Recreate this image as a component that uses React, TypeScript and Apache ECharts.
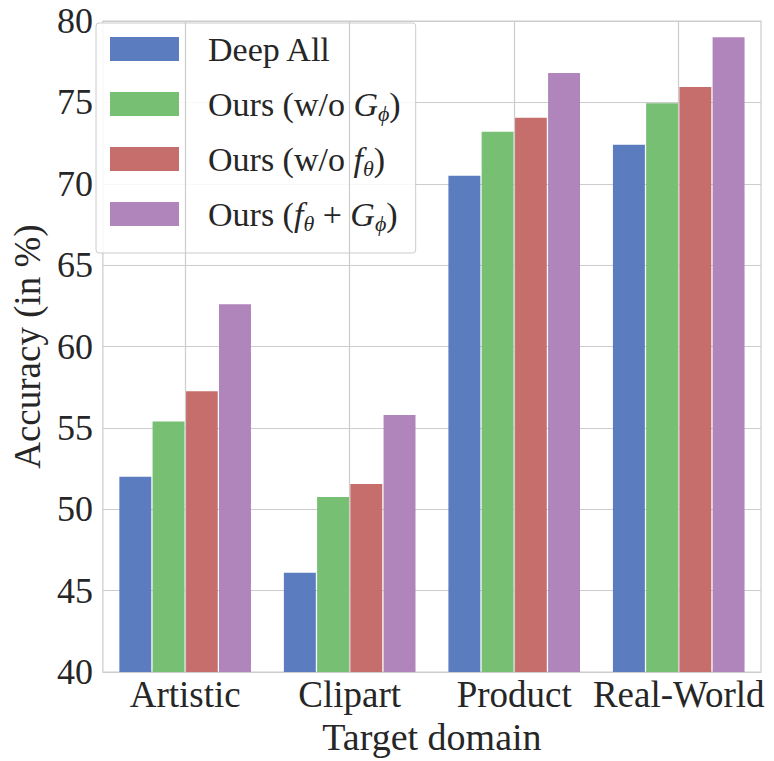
import React, { useEffect, useRef } from "react";
import * as echarts from "echarts";

const categories = ["Artistic", "Clipart", "Product", "Real-World"];
const seriesNames = ["Deep All", "Ours (w/o G)", "Ours (w/o f)", "Ours (f + G)"];
const deepAll = [52.0, 46.1, 70.5, 72.4];
const oursWoG = [55.4, 50.75, 73.2, 74.95];
const oursWoF = [57.25, 51.55, 74.05, 75.95];
const oursFull = [62.6, 55.8, 76.8, 79.0];
const colors = ["#5B7DBF", "#77BF72", "#C66E6C", "#AF85BC"];
const yTicks = { min: 40, max: 80, interval: 5 };

const FONT = "'Liberation Serif', 'Times New Roman', serif";
const TXT = "#262626";

const legendRich: Record<string, string> = {
  "Deep All": "{t|Deep All}",
  "Ours (w/o G)": "{t|Ours (w/o }{i|G}{s|ϕ}{t|)}",
  "Ours (w/o f)": "{t|Ours (w/o }{i|f}{s|θ}{t|)}",
  "Ours (f + G)": "{t|Ours (}{i|f}{s|θ}{t| + }{i|G}{s|ϕ}{t|)}",
};

export default function App() {
  const ref = useRef<HTMLDivElement>(null);
  useEffect(() => {
    if (!ref.current) return;
    const chart = echarts.init(ref.current, undefined, { renderer: "svg" });
    const values = [deepAll, oursWoG, oursWoF, oursFull];
    const barSeries = seriesNames.map((name, i) => ({
      name,
      type: "bar" as const,
      data: values[i],
      z: 3,
      barGap: "4%",
      barCategoryGap: "20%",
      itemStyle: { color: colors[i] },
    }));
    chart.setOption({
      animation: false,
      grid: {
        left: 92,
        top: 21,
        right: 13,
        bottom: 88,
        show: true,
        borderColor: "#cccccc",
        borderWidth: 1.2,
        backgroundColor: "transparent",
      },
      legend: {
        data: seriesNames,
        orient: "vertical",
        left: 96,
        top: 23,
        padding: [6, 15, 19, 14],
        itemWidth: 69,
        itemHeight: 24,
        itemGap: 15,
        backgroundColor: "rgba(255,255,255,0.85)",
        borderColor: "#cccccc",
        borderWidth: 1,
        borderRadius: 3,
        icon: "rect",
        formatter: (name: string) => legendRich[name] || name,
        textStyle: {
          fontFamily: FONT,
          fontSize: 34,
          color: TXT,
          lineHeight: 40,
          padding: [0, 0, 0, 24],
          rich: {
            t: { fontFamily: FONT, fontSize: 34, color: TXT, lineHeight: 40 },
            i: { fontFamily: FONT, fontSize: 34, color: TXT, fontStyle: "italic", lineHeight: 40 },
            s: {
              fontFamily: FONT,
              fontSize: 22,
              color: TXT,
              fontStyle: "italic",
              lineHeight: 22,
              verticalAlign: "bottom",
            },
          },
        },
      },
      xAxis: {
        type: "category",
        data: categories,
        name: "Target domain",
        nameLocation: "middle",
        nameGap: 40,
        nameTextStyle: { fontFamily: FONT, fontSize: 38, color: TXT, lineHeight: 38 },
        axisLine: { show: false },
        axisTick: { show: false },
        splitLine: { show: false },
        axisLabel: {
          fontFamily: FONT,
          fontSize: 37,
          color: TXT,
          margin: 4,
          lineHeight: 37,
          interval: 0,
        },
      },
      yAxis: {
        type: "value",
        min: yTicks.min,
        max: yTicks.max,
        interval: yTicks.interval,
        name: "Accuracy (in %)",
        nameLocation: "middle",
        nameGap: 55,
        nameTextStyle: { fontFamily: FONT, fontSize: 37, color: TXT, lineHeight: 38 },
        axisLine: { show: false },
        axisTick: { show: false },
        axisLabel: { fontFamily: FONT, fontSize: 36, color: TXT, margin: 10 },
        splitLine: { show: true, lineStyle: { color: "#cccccc", width: 1.2 } },
      },
      series: [
        {
          name: "_vgrid",
          type: "line",
          data: [null, null, null, null],
          symbol: "none",
          z: 1,
          silent: true,
          markLine: {
            silent: true,
            symbol: ["none", "none"],
            label: { show: false },
            lineStyle: { color: "#cccccc", width: 1.2, type: "solid" },
            data: categories.map((c) => ({ xAxis: c })),
          },
        },
        ...barSeries,
      ],
    });
    return () => chart.dispose();
  }, []);
  return (
    <div
      ref={ref}
      style={{ position: "fixed", left: 0, top: 0, width: 774, height: 761, background: "#fff" }}
    />
  );
}
